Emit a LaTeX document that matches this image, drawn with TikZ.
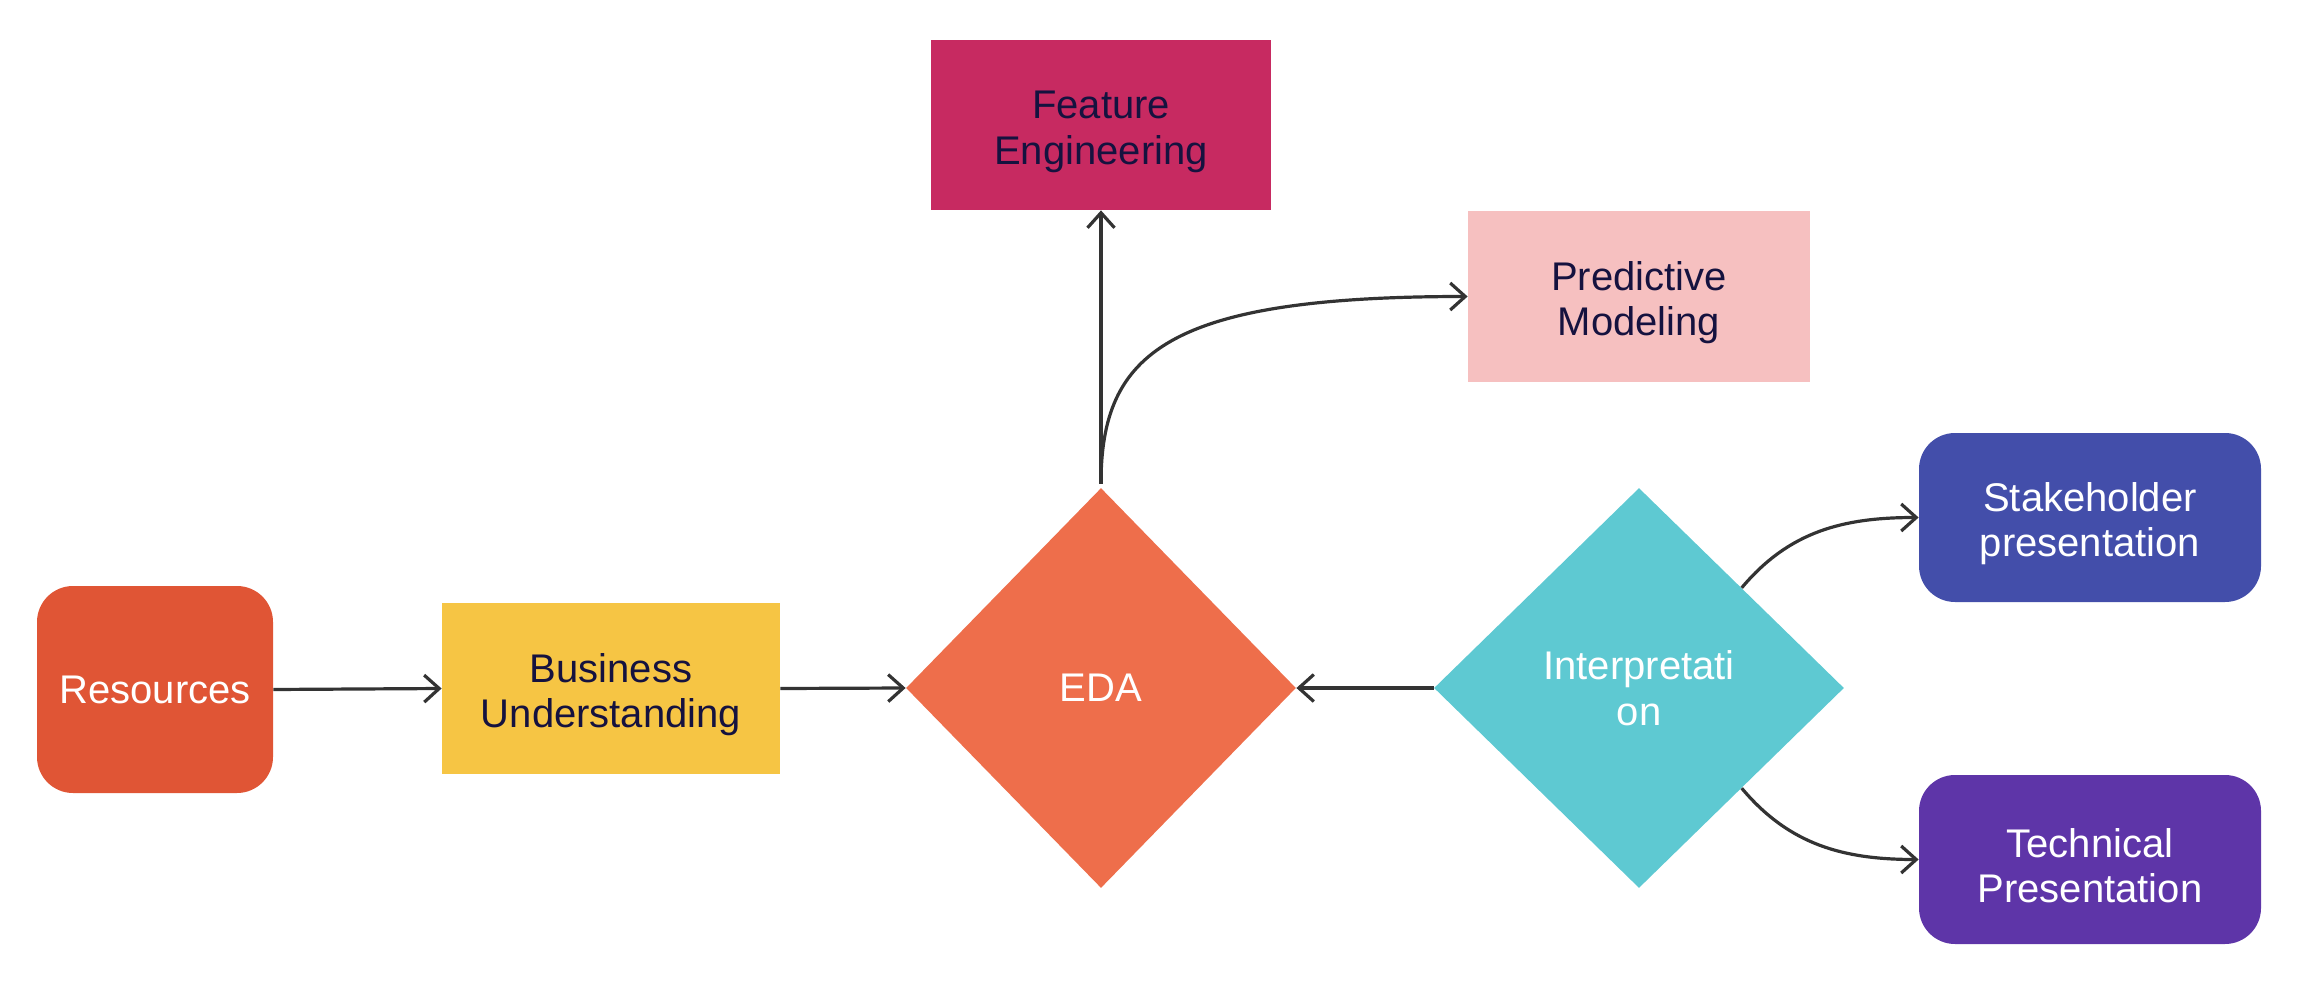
\documentclass[tikz,border=0pt]{standalone}
\usepackage{fontspec}
\setmainfont{Liberation Sans}
\usetikzlibrary{shapes.geometric,arrows.meta,calc}
\definecolor{resred}{HTML}{E05535}
\definecolor{bizyellow}{HTML}{F6C544}
\definecolor{edaorange}{HTML}{EE6E4B}
\definecolor{featmagenta}{HTML}{C72A61}
\definecolor{predpink}{HTML}{F6C0C0}
\definecolor{interpcyan}{HTML}{5EC9D2}
\definecolor{stakeblue}{HTML}{434EAA}
\definecolor{techpurple}{HTML}{5E35A8}
\definecolor{darktext}{HTML}{15123F}
\definecolor{linegray}{HTML}{333333}
\begin{document}
\begin{tikzpicture}[x=0.5pt,y=-0.5pt,
  lbl/.style={inner sep=0pt, align=center, font=\fontsize{20}{22.75}\selectfont},
  twoline/.style={text height=43.5pt},
  rbox/.style={lbl, twoline, rectangle, minimum width=169pt, minimum height=85.5pt},
  roundbox/.style={lbl, rectangle, rounded corners=18pt, text=white},
  dbox/.style={lbl, diamond, minimum width=#1, minimum height=200pt, text=white},
  conn/.style={draw=linegray, line width=1.6pt, -{Straight Barb[length=7.5pt,width=13.5pt]}}
]
\useasboundingbox (0,0) rectangle (2302,984);

% nodes
\node[roundbox, fill=resred, minimum width=118pt, minimum height=103.5pt] (R) at (155,689.5) {Resources};
\node[rbox, fill=bizyellow, text=darktext] (B) at (611,688.5) {Business\\Understanding};
\node[dbox=195pt, fill=edaorange] (E) at (1101,688) {EDA};
\node[rbox, fill=featmagenta, text=darktext, minimum width=170pt, minimum height=85pt] (F) at (1101,125) {Feature\\Engineering};
\node[rbox, fill=predpink, text=darktext, minimum width=171pt] (P) at (1639,296.5) {Predictive\\Modeling};
\node[dbox=205pt, fill=interpcyan] (I) at (1639,688) {Interpretati\\on};
\node[roundbox, twoline, fill=stakeblue, minimum width=171pt, minimum height=84.5pt] (S) at (2090,517.5) {Stakeholder\\presentation};
\node[roundbox, twoline, fill=techpurple, minimum width=171pt, minimum height=84.5pt] (T) at (2090,859.5) {Technical\\Presentation};

% connectors
\draw[conn] (R.east) -- (B.west);
\draw[conn] (B.east) -- (E.west);
\draw[conn] (I.west) -- (E.east);
\draw[conn, shorten <=2pt] (E.north) -- (F.south);
\draw[conn, shorten <=2pt] (E.north) .. controls +(0,-135) and +(-300,0) .. (P.west);
\coordinate (Iup) at ($(I.north)!0.5!(I.east)$);
\coordinate (Idn) at ($(I.south)!0.5!(I.east)$);
\draw[conn] (Iup) to[out=50,in=180] (S.west);
\draw[conn] (Idn) to[out=-50,in=180] (T.west);
\end{tikzpicture}
\end{document}
